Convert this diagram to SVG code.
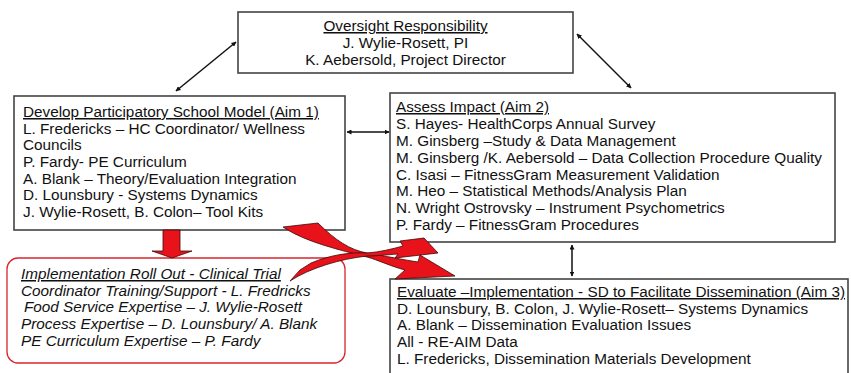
<svg xmlns="http://www.w3.org/2000/svg" width="851" height="373" viewBox="0 0 851 373">
<defs>
<marker id="ah" viewBox="0 0 10 10" refX="9" refY="5" markerWidth="5" markerHeight="5" orient="auto-start-reverse" markerUnits="userSpaceOnUse">
<path d="M0,0 L10,5 L0,10 Z" fill="#111"/>
</marker>
<style>
.box{fill:#fff;stroke:#444;stroke-width:1.6}
.rbox{fill:#fff;stroke:#d8262e;stroke-width:1.3}
.t{font-family:"Liberation Sans",Arial,sans-serif;font-size:15.3px;fill:#111}
.tt{font-family:"Liberation Sans",Arial,sans-serif;font-size:15.3px;fill:#111}
.u{text-decoration:underline}
.i{font-style:italic}
.con{stroke:#111;stroke-width:1.5;fill:none}
.red{fill:#e8121a;stroke:#3a0a0a;stroke-width:0.8;stroke-linejoin:round}
</style>
</defs>
<rect width="851" height="373" fill="#fff"/>

<g id="oversight">
<rect class="box" x="238" y="12" width="335" height="61"/>
<text class="tt" x="405.5" text-anchor="middle"><tspan x="405.5" y="31" class="u">Oversight Responsibility</tspan><tspan x="405.5" y="48">J. Wylie-Rosett, PI</tspan><tspan x="405.5" y="65">K. Aebersold, Project Director</tspan></text>
</g>

<g id="aim1">
<rect class="box" x="14" y="96" width="331" height="134"/>
<text class="t"><tspan x="23" y="117" class="u">Develop Participatory School Model (Aim 1)</tspan><tspan x="23" y="134">L. Fredericks – HC Coordinator/ Wellness</tspan><tspan x="23" y="150">Councils</tspan><tspan x="23" y="167">P. Fardy- PE Curriculum</tspan><tspan x="23" y="184">A. Blank – Theory/Evaluation Integration</tspan><tspan x="23" y="200">D. Lounsbury - Systems Dynamics</tspan><tspan x="23" y="217">J. Wylie-Rosett, B. Colon– Tool Kits</tspan></text>
</g>

<g id="aim2">
<rect class="box" x="390" y="93" width="445" height="149"/>
<text class="t"><tspan x="396" y="112" class="u">Assess Impact (Aim 2)</tspan><tspan x="396" y="129">S. Hayes- HealthCorps Annual Survey</tspan><tspan x="396" y="146">M. Ginsberg –Study &amp; Data Management</tspan><tspan x="396" y="163">M. Ginsberg /K. Aebersold – Data Collection Procedure Quality</tspan><tspan x="396" y="180">C. Isasi – FitnessGram Measurement Validation</tspan><tspan x="396" y="196">M. Heo – Statistical Methods/Analysis Plan</tspan><tspan x="396" y="213">N. Wright Ostrovsky – Instrument Psychometrics</tspan><tspan x="396" y="230">P. Fardy – FitnessGram Procedures</tspan></text>
</g>

<g id="implementation">
<rect class="rbox" x="7" y="258" width="338" height="105" rx="11" ry="11"/>
<text class="t i"><tspan x="21" y="279" class="u">Implementation Roll Out - Clinical Trial</tspan><tspan x="21" y="296">Coordinator Training/Support - L. Fredricks</tspan><tspan x="24" y="312">Food Service Expertise – J. Wylie-Rosett</tspan><tspan x="21" y="329">Process Expertise – D. Lounsbury/ A. Blank</tspan><tspan x="21" y="346">PE Curriculum Expertise – P. Fardy</tspan></text>
</g>

<g id="aim3">
<rect class="box" x="390" y="279" width="458" height="110"/>
<text class="t"><tspan x="397" y="297" class="u">Evaluate –Implementation - SD to Facilitate Dissemination (Aim 3)</tspan><tspan x="397" y="314">D. Lounsbury, B. Colon, J. Wylie-Rosett– Systems Dynamics</tspan><tspan x="397" y="330">A. Blank – Dissemination Evaluation Issues</tspan><tspan x="397" y="347">All - RE-AIM Data</tspan><tspan x="397" y="364">L. Fredericks, Dissemination Materials Development</tspan></text>
</g>

<g id="connectors">
<line class="con" x1="236" y1="42" x2="176" y2="91" marker-start="url(#ah)" marker-end="url(#ah)"/>
<line class="con" x1="577" y1="34" x2="631" y2="88" marker-start="url(#ah)" marker-end="url(#ah)"/>
<line class="con" x1="347" y1="132" x2="389" y2="132" marker-start="url(#ah)" marker-end="url(#ah)"/>
<line class="con" x1="572" y1="245" x2="572" y2="276" marker-start="url(#ah)" marker-end="url(#ah)"/>
<path class="red" d="M163,230 L180,230 L180,251 L192,251 L172,258 L152,251 L163,251 Z"/>
<path class="red" d="M283,227 L318,223 C335,240 350,250 367,253 C385,256 405,260 418,262 L420,255 L455,276 L395,279 L405,270 C390,266 378,260 367,257 C340,250 305,242 283,227 Z"/>
<path class="red" d="M290,281 L300,270 L311,263 C330,255 350,252 367,253 C380,252 392,249 403,246 L400,241 L424,238 L438,253 L395,258 L398,254 C385,255 375,256 367,256 C340,259 310,268 290,281 Z"/>
</g>
</svg>
